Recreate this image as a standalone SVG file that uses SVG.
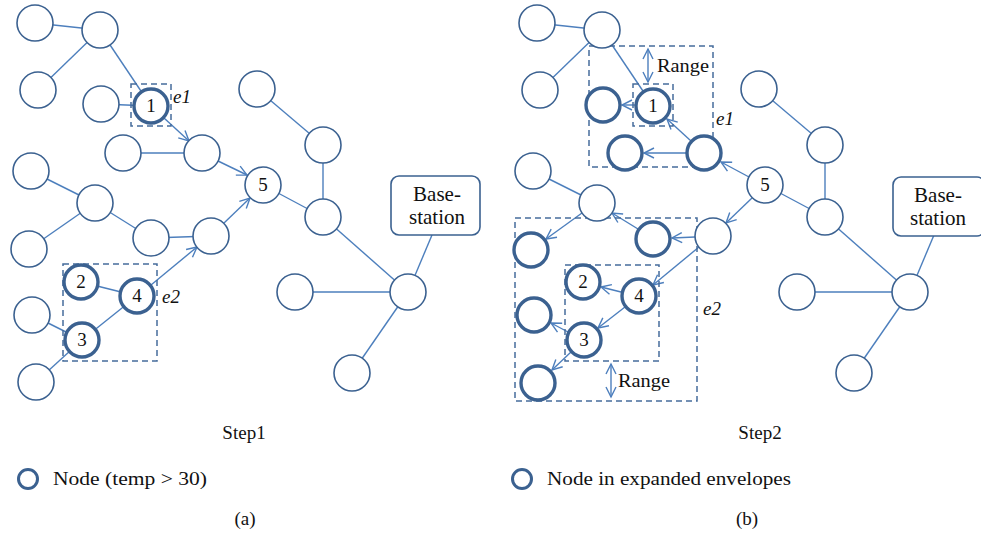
<svg xmlns="http://www.w3.org/2000/svg" width="981" height="533" viewBox="0 0 981 533">
<style>
.n{fill:#fff;stroke:#3b6190;stroke-width:1.6}
.t{fill:#fff;stroke:#3b6190;stroke-width:3.4}
.e{stroke:#4d7fbd;stroke-width:1.4;fill:none}
.a{stroke:#4d7fbd;stroke-width:1.4;fill:none;marker-end:url(#arr)}
.box{fill:none;stroke:#466c9c;stroke-width:1.5;stroke-dasharray:6 4}
.lbl{font-family:"Liberation Serif",serif;font-size:19px;fill:#111;text-anchor:middle}
.it{font-family:"Liberation Serif",serif;font-size:19px;font-style:italic;fill:#111}
.txt{font-family:"Liberation Serif",serif;font-size:19px;fill:#111}
.bs{fill:#fff;stroke:#3b6190;stroke-width:1.6}
.big{font-size:21px}
</style>
<defs>
<marker id="arr" markerUnits="userSpaceOnUse" markerWidth="14" markerHeight="14" refX="11" refY="6" orient="auto">
<path d="M1,1 L11,6 L1,11" fill="none" stroke="#4d7fbd" stroke-width="1.4"/>
</marker>
<marker id="arrs" markerUnits="userSpaceOnUse" markerWidth="14" markerHeight="14" refX="11" refY="6" orient="auto-start-reverse">
<path d="M1,1 L11,6 L1,11" fill="none" stroke="#4d7fbd" stroke-width="1.4"/>
</marker>
</defs>
<g id="connectors">
<line class="e" x1="35" y1="23" x2="100" y2="30"/>
<line class="e" x1="100" y1="30" x2="38" y2="90"/>
<line class="e" x1="100" y1="30" x2="151" y2="106"/>
<line class="e" x1="101" y1="104" x2="151" y2="106"/>
<line class="e" x1="123" y1="153" x2="202" y2="153"/>
<line class="e" x1="31" y1="171" x2="95" y2="203"/>
<line class="e" x1="95" y1="203" x2="29" y2="249"/>
<line class="e" x1="95" y1="203" x2="151" y2="238"/>
<line class="e" x1="151" y1="238" x2="211" y2="236"/>
<line class="e" x1="81" y1="282" x2="137" y2="296"/>
<line class="e" x1="82" y1="340" x2="137" y2="296"/>
<line class="e" x1="32" y1="315" x2="82" y2="340"/>
<line class="e" x1="36" y1="382" x2="82" y2="340"/>
<line class="e" x1="257" y1="89" x2="323" y2="145"/>
<line class="e" x1="323" y1="145" x2="323" y2="217"/>
<line class="e" x1="263" y1="185" x2="323" y2="217"/>
<line class="e" x1="323" y1="217" x2="408" y2="292"/>
<line class="e" x1="295" y1="292" x2="408" y2="292"/>
<line class="e" x1="352" y1="373" x2="408" y2="292"/>
<line class="e" x1="432" y1="235" x2="408" y2="292"/>
<line class="a" x1="164" y1="118" x2="189" y2="141"/>
<line class="a" x1="218" y1="161" x2="247" y2="175"/>
<line class="a" x1="224" y1="223" x2="250" y2="198"/>
<line class="a" x1="151" y1="285" x2="197" y2="247"/>
<line class="e" x1="537" y1="23" x2="602" y2="30"/>
<line class="e" x1="602" y1="30" x2="540" y2="90"/>
<line class="e" x1="602" y1="30" x2="653" y2="106"/>
<line class="e" x1="533" y1="171" x2="597" y2="203"/>
<line class="e" x1="759" y1="89" x2="825" y2="145"/>
<line class="e" x1="825" y1="145" x2="825" y2="217"/>
<line class="e" x1="765" y1="185" x2="825" y2="217"/>
<line class="e" x1="825" y1="217" x2="910" y2="292"/>
<line class="e" x1="797" y1="292" x2="910" y2="292"/>
<line class="e" x1="854" y1="373" x2="910" y2="292"/>
<line class="e" x1="934" y1="235" x2="910" y2="292"/>
<line class="a" x1="635" y1="105" x2="622" y2="105"/>
<line class="a" x1="691" y1="141" x2="667" y2="119"/>
<line class="a" x1="686" y1="153" x2="644" y2="153"/>
<line class="a" x1="749" y1="177" x2="721" y2="162"/>
<line class="a" x1="752" y1="198" x2="726" y2="223"/>
<line class="a" x1="695" y1="237" x2="672" y2="238"/>
<line class="a" x1="638" y1="229" x2="612" y2="213"/>
<line class="a" x1="582" y1="213" x2="546" y2="239"/>
<line class="a" x1="699" y1="247" x2="653" y2="285"/>
<line class="a" x1="621" y1="292" x2="601" y2="287"/>
<line class="a" x1="625" y1="307" x2="598" y2="328"/>
<line class="a" x1="568" y1="332" x2="551" y2="323"/>
<line class="a" x1="571" y1="352" x2="552" y2="370"/>
<line x1="648" y1="49" x2="648" y2="82" stroke="#4d7fbd" stroke-width="1.4" marker-start="url(#arrs)" marker-end="url(#arrs)"/>
<line x1="611" y1="364" x2="611" y2="397" stroke="#4d7fbd" stroke-width="1.4" marker-start="url(#arrs)" marker-end="url(#arrs)"/>
</g>
<g id="envelopes">
<rect class="box" x="131" y="84" width="40" height="42"/>
<text class="it" x="173" y="103">e1</text>
<rect class="box" x="63" y="264" width="94" height="97"/>
<text class="it" x="162" y="303">e2</text>
<rect class="box" x="589" y="46" width="124" height="121"/>
<rect class="box" x="633" y="84" width="40" height="42"/>
<text class="it" x="716" y="125">e1</text>
<rect class="box" x="515" y="218" width="182" height="183"/>
<rect class="box" x="565" y="265" width="94" height="96"/>
<text class="it" x="703" y="315">e2</text>
<text class="txt" x="657" y="72" textLength="52" lengthAdjust="spacingAndGlyphs">Range</text>
<text class="txt" x="618" y="387" textLength="52" lengthAdjust="spacingAndGlyphs">Range</text>
</g>
<g id="L_A"><circle class="n" cx="35" cy="23" r="18"/></g>
<g id="L_B"><circle class="n" cx="100" cy="30" r="18"/></g>
<g id="L_C"><circle class="n" cx="38" cy="90" r="18"/></g>
<g id="L_D"><circle class="n" cx="101" cy="104" r="18"/></g>
<g id="L_1"><circle class="t" cx="151" cy="106" r="17"/><text class="lbl" x="151" y="112">1</text></g>
<g id="L_E"><circle class="n" cx="123" cy="153" r="18"/></g>
<g id="L_F"><circle class="n" cx="202" cy="153" r="18"/></g>
<g id="L_G"><circle class="n" cx="31" cy="171" r="18"/></g>
<g id="L_H"><circle class="n" cx="95" cy="203" r="18"/></g>
<g id="L_I"><circle class="n" cx="29" cy="249" r="18"/></g>
<g id="L_J"><circle class="n" cx="151" cy="238" r="18"/></g>
<g id="L_K"><circle class="n" cx="211" cy="236" r="18"/></g>
<g id="L_2"><circle class="t" cx="81" cy="282" r="17"/><text class="lbl" x="81" y="288">2</text></g>
<g id="L_4"><circle class="t" cx="137" cy="296" r="17"/><text class="lbl" x="137" y="302">4</text></g>
<g id="L_3"><circle class="t" cx="82" cy="340" r="17"/><text class="lbl" x="82" y="346">3</text></g>
<g id="L_L"><circle class="n" cx="32" cy="315" r="18"/></g>
<g id="L_M"><circle class="n" cx="36" cy="382" r="18"/></g>
<g id="L_N"><circle class="n" cx="257" cy="89" r="18"/></g>
<g id="L_O"><circle class="n" cx="323" cy="145" r="18"/></g>
<g id="L_5"><circle class="n" cx="263" cy="185" r="18"/><text class="lbl" x="263" y="191">5</text></g>
<g id="L_P"><circle class="n" cx="323" cy="217" r="18"/></g>
<g id="L_Q"><circle class="n" cx="408" cy="292" r="18"/></g>
<g id="L_R"><circle class="n" cx="295" cy="292" r="18"/></g>
<g id="L_S"><circle class="n" cx="352" cy="373" r="18"/></g>
<g id="L_base"><rect class="bs" x="391" y="176" width="89" height="59" rx="8"/><text class="lbl big" x="437" y="201">Base-</text><text class="lbl big" x="437" y="224">station</text></g>
<g id="R_A"><circle class="n" cx="537" cy="23" r="18"/></g>
<g id="R_B"><circle class="n" cx="602" cy="30" r="18"/></g>
<g id="R_C"><circle class="n" cx="540" cy="90" r="18"/></g>
<g id="R_D"><circle class="t" cx="603" cy="105" r="17"/></g>
<g id="R_1"><circle class="t" cx="653" cy="106" r="17"/><text class="lbl" x="653" y="112">1</text></g>
<g id="R_E"><circle class="t" cx="625" cy="153" r="17"/></g>
<g id="R_F"><circle class="t" cx="704" cy="153" r="17"/></g>
<g id="R_G"><circle class="n" cx="533" cy="171" r="18"/></g>
<g id="R_H"><circle class="n" cx="597" cy="203" r="18"/></g>
<g id="R_I"><circle class="t" cx="531" cy="250" r="17"/></g>
<g id="R_J"><circle class="t" cx="653" cy="239" r="17"/></g>
<g id="R_K"><circle class="n" cx="713" cy="236" r="18"/></g>
<g id="R_2"><circle class="t" cx="583" cy="282" r="17"/><text class="lbl" x="583" y="288">2</text></g>
<g id="R_4"><circle class="t" cx="639" cy="296" r="17"/><text class="lbl" x="639" y="302">4</text></g>
<g id="R_3"><circle class="t" cx="584" cy="340" r="17"/><text class="lbl" x="584" y="346">3</text></g>
<g id="R_L"><circle class="t" cx="534" cy="315" r="17"/></g>
<g id="R_M"><circle class="t" cx="538" cy="383" r="17"/></g>
<g id="R_N"><circle class="n" cx="759" cy="89" r="18"/></g>
<g id="R_O"><circle class="n" cx="825" cy="145" r="18"/></g>
<g id="R_5"><circle class="n" cx="765" cy="185" r="18"/><text class="lbl" x="765" y="191">5</text></g>
<g id="R_P"><circle class="n" cx="825" cy="217" r="18"/></g>
<g id="R_Q"><circle class="n" cx="910" cy="292" r="18"/></g>
<g id="R_R"><circle class="n" cx="797" cy="292" r="18"/></g>
<g id="R_S"><circle class="n" cx="854" cy="373" r="18"/></g>
<g id="R_base"><rect class="bs" x="893" y="177" width="92" height="59" rx="8"/><text class="lbl big" x="938" y="202">Base-</text><text class="lbl big" x="938" y="225">station</text></g>
<g id="captions">
<text class="lbl" x="244" y="439">Step1</text>
<text class="lbl" x="760" y="439">Step2</text>
<text class="lbl" x="245" y="525">(a)</text>
<text class="lbl" x="747" y="525">(b)</text>
</g>
<g id="legend_a"><circle cx="28" cy="479" r="9.5" fill="#fff" stroke="#3b6190" stroke-width="3"/><text class="txt" x="53" y="485" textLength="154" lengthAdjust="spacingAndGlyphs">Node (temp &gt; 30)</text></g>
<g id="legend_b"><circle cx="522" cy="479" r="9.5" fill="#fff" stroke="#3b6190" stroke-width="3"/><text class="txt" x="547" y="485" textLength="244" lengthAdjust="spacingAndGlyphs">Node in expanded envelopes</text></g>
</svg>
